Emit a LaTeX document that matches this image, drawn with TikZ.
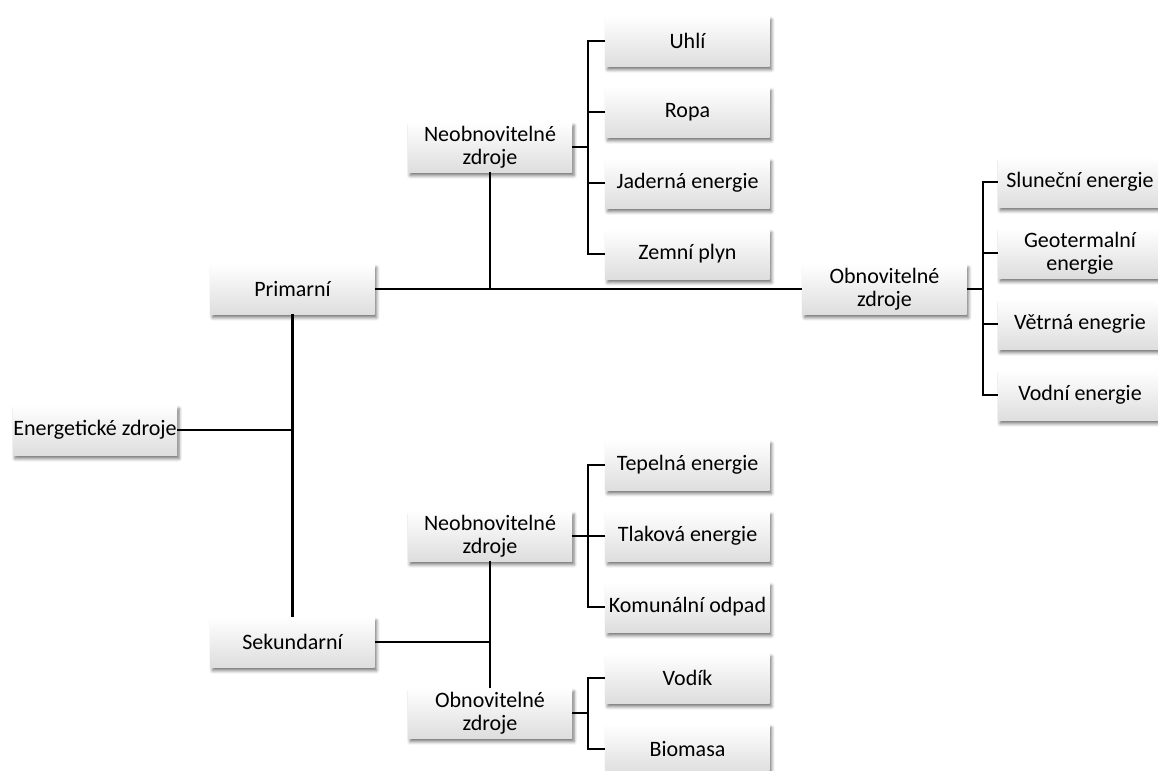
\documentclass[tikz,border=0pt]{standalone}
\usepackage{fontspec}
\setmainfont{Carlito}
\usetikzlibrary{positioning, shadows.blur}

\begin{document}
\begin{tikzpicture}[x=0.5pt,y=-0.5pt,node distance=35.5pt,on grid,
        every node/.style={font=\fontsize{11}{11.5}\selectfont},
        zdroj/.style={rectangle,align=center,inner sep=0pt,minimum width=82pt,minimum height=25pt,
            top color=white,bottom color=black!13,
            blur shadow={shadow xshift=1pt,shadow yshift=-1.8pt,shadow blur radius=1.6pt,shadow opacity=55}},
        spoj/.style={draw=black,line width=1.4pt}]

      \useasboundingbox (0,0) rectangle (1158,771);

      % hlavni vetve
      \node[zdroj] (energ) at (95,430)    {Energetické zdroje};
      \node[zdroj] (prim)  at (292.5,289) {Primarní};
      \node[zdroj] (sek)   at (292.5,642) {Sekundarní};

      \node[zdroj] (neo1) at (490,147)   {Neobnovitelné\\zdroje};
      \node[zdroj] (obn1) at (884.5,289) {Obnovitelné\\zdroje};
      \node[zdroj] (neo2) at (490,536)   {Neobnovitelné\\zdroje};
      \node[zdroj] (obn2) at (490,713)   {Obnovitelné\\zdroje};

      % listy
      \node[zdroj] (uhli)  at (687.5,41)    {Uhlí};
      \node[zdroj] (ropa)  [below=of uhli] {Ropa};
      \node[zdroj] (jad)   [below=of ropa] {Jaderná energie};
      \node[zdroj] (zemni) [below=of jad]  {Zemní plyn};

      \node[zdroj] (slun)  at (1080,182)    {Sluneční energie};
      \node[zdroj] (geo)   [below=of slun] {Geotermalní\\energie};
      \node[zdroj] (vetr)  [below=of geo]  {Větrná enegrie};
      \node[zdroj] (vodni) [below=of vetr] {Vodní energie};

      \node[zdroj] (tep)   at (687.5,465)   {Tepelná energie};
      \node[zdroj] (tlak)  [below=of tep]  {Tlaková energie};
      \node[zdroj] (kom)   [below=of tlak] {Komunální odpad};

      \node[zdroj] (vodik)   at (687.5,678)    {Vodík};
      \node[zdroj] (biomasa) [below=of vodik] {Biomasa};

      \coordinate (j1) at (588,0);
      \coordinate (j2) at (983,0);

      % spojnice
      \draw[spoj] (energ.east) -- (energ.east -| prim.south);
      \draw[spoj] (prim.south) -- (sek.north);
      \draw[spoj] (prim.east) -- (obn1.west);
      \draw[spoj] (neo1.south) -- (neo1.south |- prim.east);
      \draw[spoj] (sek.east) -- (sek.east -| neo2.south);
      \draw[spoj] (neo2.south) -- (obn2.north);

      \draw[spoj] (uhli.west) -- (uhli.west -| j1) -- (zemni.west -| j1) -- (zemni.west);
      \draw[spoj] (neo1.east) -- (neo1.east -| j1);
      \foreach \n in {ropa,jad} \draw[spoj] (\n.west) -- (\n.west -| j1);

      \draw[spoj] (slun.west) -- (slun.west -| j2) -- (vodni.west -| j2) -- (vodni.west);
      \draw[spoj] (obn1.east) -- (obn1.east -| j2);
      \foreach \n in {geo,vetr} \draw[spoj] (\n.west) -- (\n.west -| j2);

      \draw[spoj] (tep.west) -- (tep.west -| j1) -- (kom.west -| j1) -- (kom.west);
      \draw[spoj] (neo2.east) -- (neo2.east -| j1);
      \draw[spoj] (tlak.west) -- (tlak.west -| j1);

      \draw[spoj] (vodik.west) -- (vodik.west -| j1) -- (biomasa.west -| j1) -- (biomasa.west);
      \draw[spoj] (obn2.east) -- (obn2.east -| j1);
\end{tikzpicture}
\end{document}
